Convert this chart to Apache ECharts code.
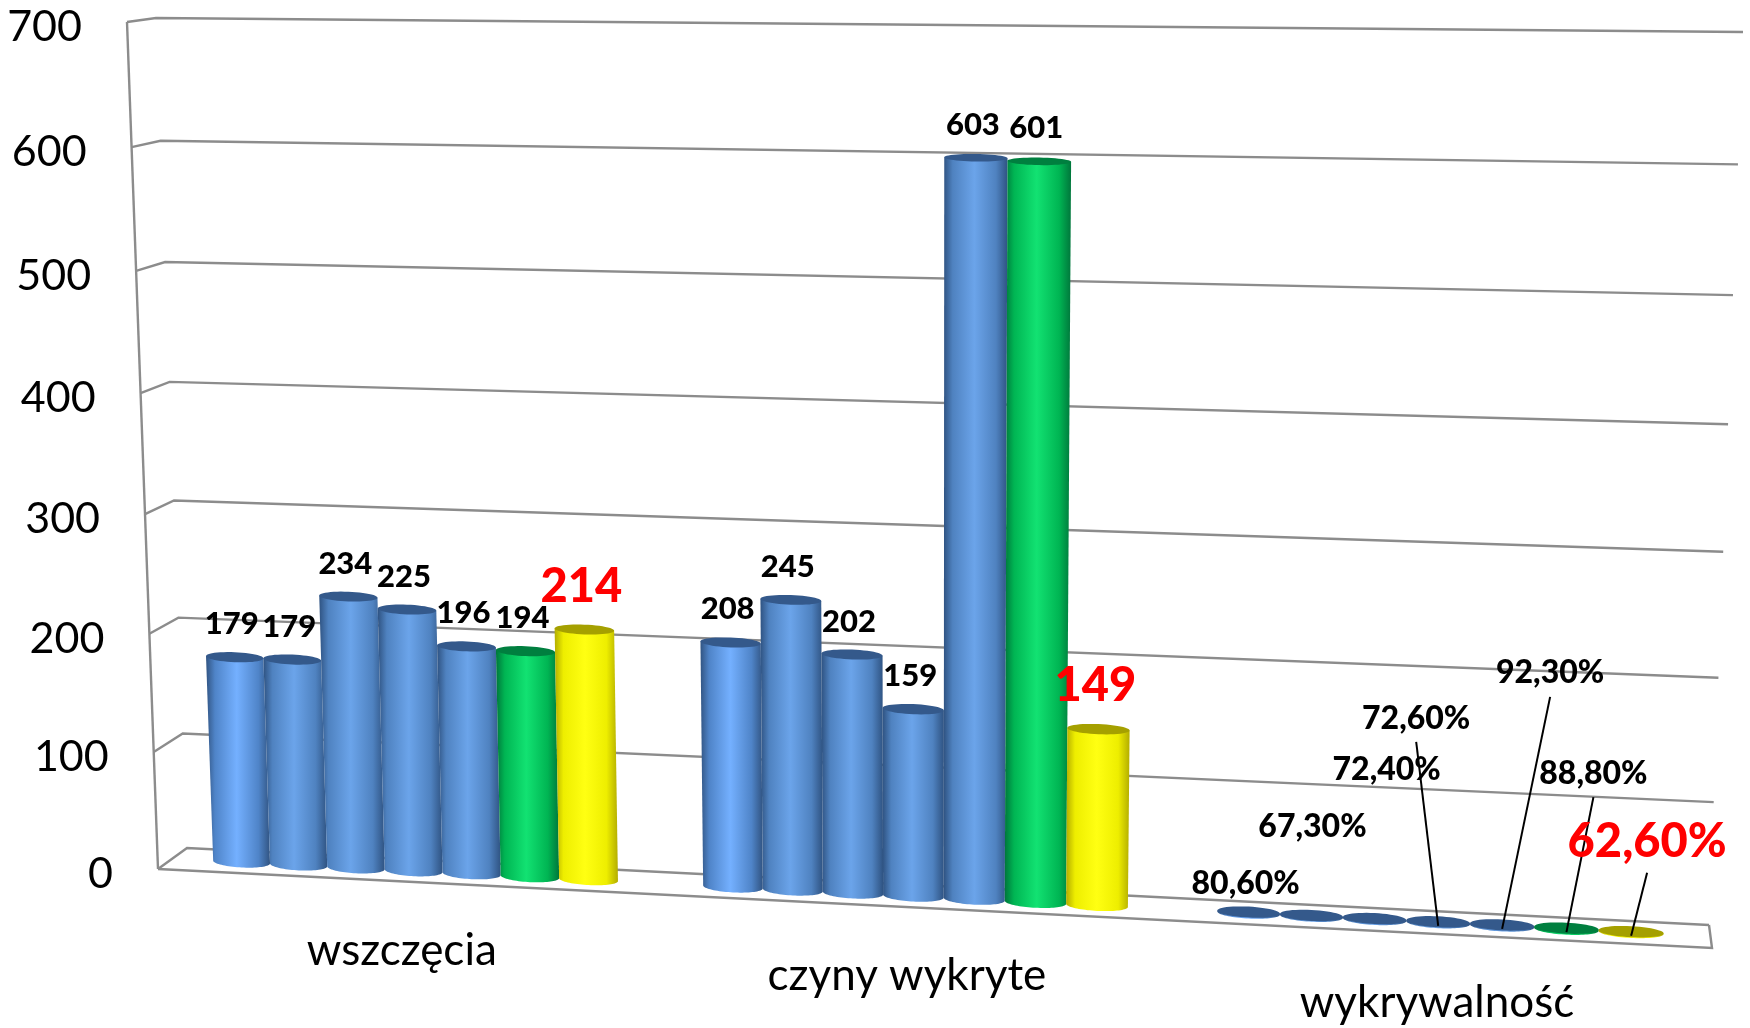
<!DOCTYPE html>
<html><head><meta charset="utf-8">
<style>html,body{margin:0;padding:0;background:#fff}#c{width:1750px;height:1028px}</style>
<script src="https://cdn.jsdelivr.net/npm/echarts@6/dist/echarts.min.js"></script>
</head><body><div id="c"></div>
<script>
// ---- data ----
const categories = ['wszczęcia', 'czyny wykryte', 'wykrywalność'];
const yTicks = [0, 100, 200, 300, 400, 500, 600, 700];
const wszczecia = [179, 179, 234, 225, 196, 194, 214];
const czynyWykryte = [208, 245, 202, 159, 603, 601, 149];
const wykrywalnosc = [0.806, 0.673, 0.724, 0.726, 0.923, 0.888, 0.626];

// ---- presentation ----
const rows = [wszczecia, czynyWykryte, wykrywalnosc];
const percentLabelOffset = [[-3,-28],[1,-89],[12,-149],[-22,-203],[48,-252],[27,-154],[16,-90]];
const percentLeaderTop = [null,null,null,[-22,-180],[48,-228],[27,-131],[16,-59]];
const barStyles = [
  {edge:'#315482', mid:'#4f84c8', hi:'#74b0ff', top:'#34598b'},
  {edge:'#2f5382', mid:'#4f82c0', hi:'#6ba4ea', top:'#34598b'},
  {edge:'#2f5382', mid:'#4f82c0', hi:'#6ba4ea', top:'#34598b'},
  {edge:'#2f5382', mid:'#4f82c0', hi:'#6ba4ea', top:'#34598b'},
  {edge:'#2f5382', mid:'#4f82c0', hi:'#6ba4ea', top:'#34598b'},
  {edge:'#00763b', mid:'#00b553', hi:'#12e272', top:'#007f3f'},
  {edge:'#b3ad00', mid:'#eeee00', hi:'#ffff12', top:'#a5a000'}
];
const FONT = 'Lato, "Open Sans", sans-serif';
const GRID = {left:100, top:100, width:1550, height:828};
const BAR_FRACTION = 0.1185;   // bar width as a share of the category band
const BAR_DEPTH = 0.5;
const TOP_INSET = 4;           // cap sits slightly inside the bar's value height

// perspective of the chart's back wall and floor depth
const wall = {bl:[187,848], br:[1709,925], tr:[1743,32], tl:[156,18]};
const depth = {bl:[-29,21], br:[3,23], tr:[4,8], tl:[-29,4]};
const H = (function(){
  const [x0,y0]=wall.bl,[x1,y1]=wall.br,[x2,y2]=wall.tr,[x3,y3]=wall.tl;
  const dx1=x1-x2,dx2=x3-x2,sx=x0-x1+x2-x3,dy1=y1-y2,dy2=y3-y2,sy=y0-y1+y2-y3;
  const den=dx1*dy2-dx2*dy1;
  const g=(sx*dy2-dx2*sy)/den,h=(dx1*sy-sx*dy1)/den;
  return {a:x1-x0+g*x1,b:x3-x0+h*x3,c:x0,d:y1-y0+g*y1,e:y3-y0+h*y3,f:y0,g,h};
})();
function project(u,v,w){
  const q=H.g*u+H.h*v+1;
  const x=(H.a*u+H.b*v+H.c)/q, y=(H.d*u+H.e*v+H.f)/q;
  const bx=depth.bl[0]*(1-u)+depth.br[0]*u, by=depth.bl[1]*(1-u)+depth.br[1]*u;
  const tx=depth.tl[0]*(1-u)+depth.tr[0]*u, ty=depth.tl[1]*(1-u)+depth.tr[1]*u;
  return [x+w*(bx*(1-v)+tx*v), y+w*(by*(1-v)+ty*v)];
}
const toU = px => (px-GRID.left)/GRID.width;
const toV = py => (GRID.top+GRID.height-py)/GRID.height;
const LINE = {stroke:'#8c8c8c', lineWidth:2.4, fill:null};
const poly = pts => ({type:'polyline', shape:{points:pts}, style:LINE, z2:1});

function renderFrame(params, api){
  const tick = api.value(0);
  const p = api.coord([0, tick]);
  const v = toV(p[1]);
  const end = api.coord([categories.length-1, tick]);
  const band = api.size([1,0])[0];
  const uR = toU(end[0]+band/2);
  const children = [poly([project(0,v,1), project(0,v,0), project(uR,v,0)])];
  const fl = project(0,v,1);
  children.push({type:'text', z2:5, style:{text:String(tick), x:fl[0]-45, y:fl[1]+5, font:'43px '+FONT, fill:'#000', textAlign:'right', textVerticalAlign:'middle'}});
  if (tick === yTicks[0]) {
    children.push(poly([project(0,v,1), project(uR,v,1), project(uR,v,0)]));
    const top = api.coord([0, yTicks[yTicks.length-1]]);
    children.push(poly([project(0,v,1), project(0,toV(top[1]),1)]));
  }
  return {type:'group', children};
}

function renderBar(params, api){
  const cat = api.value(0), val = api.value(1), j = api.value(2);
  const base = api.coord([cat, 0]), topPt = api.coord([cat, val]);
  const band = api.size([1,0])[0];
  const bw = band*BAR_FRACTION;
  const uc = toU(base[0]+(j-3)*bw), du = toU(base[0]+bw/2)-toU(base[0]);
  const v0 = toV(base[1]);
  const inset = Math.max(0, Math.min(TOP_INSET, base[1]-topPt[1]-1));
  const v1 = toV(topPt[1]+inset);
  const s = barStyles[j];
  function ring(v, from, to, n){
    const c = project(uc,v,BAR_DEPTH), l = project(uc-du,v,BAR_DEPTH), r = project(uc+du,v,BAR_DEPTH);
    const ex=[(r[0]-l[0])/2,(r[1]-l[1])/2], b = 5.5-2*v;
    const out=[];
    for(let i=0;i<=n;i++){const t=from+(to-from)*i/n;
      out.push([c[0]+ex[0]*Math.cos(t), c[1]+ex[1]*Math.cos(t)+b*Math.sin(t)]);}
    return out;
  }
  const topC = project(uc,v1,BAR_DEPTH);
  const children = [];
  const body = ring(v1,Math.PI,Math.PI,1).concat(ring(v0,Math.PI,0,40),ring(v1,0,0,1));
  children.push({type:'polygon', z2:10+j, shape:{points:body}, style:{fill:{type:'linear',x:0,y:0,x2:1,y2:0,colorStops:[
    {offset:0,color:s.edge},{offset:0.14,color:s.mid},{offset:0.48,color:s.hi},{offset:0.82,color:s.mid},{offset:1,color:s.edge}]}}});
  children.push({type:'polygon', z2:10+j, shape:{points:ring(v1,0,Math.PI*2,48)}, style:{fill:s.top}});
  const isLast = j===6, isPct = cat===2;
  const text = isPct ? (val*100).toFixed(2).replace('.',',')+'%' : String(val);
  const size = isLast ? 47 : (isPct ? 32 : 31);
  let lx, ly;
  if (isPct){
    lx = topC[0]+percentLabelOffset[j][0]; ly = topC[1]+percentLabelOffset[j][1];
    const lt = percentLeaderTop[j];
    if (lt) children.push({type:'line', z2:30, shape:{x1:topC[0]+lt[0],y1:topC[1]+lt[1],x2:topC[0],y2:topC[1]+4}, style:{stroke:'#000',lineWidth:2}});
  } else {
    lx = topC[0]-3; ly = topC[1]+(isLast?-43:-33);
  }
  children.push({type:'text', z2:40, style:{text, x:lx, y:ly, font:'900 '+size+'px '+FONT, fill:isLast?'#ff0000':'#000', textAlign:'center', textVerticalAlign:'middle'}});
  return {type:'group', children};
}

function renderCategory(params, api){
  const i = api.value(0);
  const p = api.coord([i,0]);
  const a = project(toU(p[0]), toV(p[1]), 1);
  return {type:'text', z2:5, style:{text:categories[i], x:a[0], y:a[1]+69, font:'44px '+FONT, fill:'#000', textAlign:'center', textVerticalAlign:'middle'}};
}

const series = [
  {type:'custom', coordinateSystem:'cartesian2d', renderItem:renderFrame, z:1, silent:true,
   encode:{y:0}, data:yTicks.map(t=>[t])},
  {type:'custom', coordinateSystem:'cartesian2d', renderItem:renderCategory, z:1, silent:true,
   encode:{x:0}, data:categories.map((c,i)=>[i])}
];
rows.forEach((row,i)=>row.forEach((val,j)=>{
  series.push({type:'custom', coordinateSystem:'cartesian2d', renderItem:renderBar, z:2, silent:true,
    encode:{x:0,y:1}, data:[[i,val,j]]});
}));
const chart = echarts.init(document.getElementById('c'), null, {renderer:'canvas'});
chart.setOption({
  animation:false, backgroundColor:'#fff',
  grid:GRID,
  xAxis:{type:'category', data:categories, show:false},
  yAxis:{type:'value', min:0, max:700, interval:100, show:false},
  series
});
</script></body></html>
